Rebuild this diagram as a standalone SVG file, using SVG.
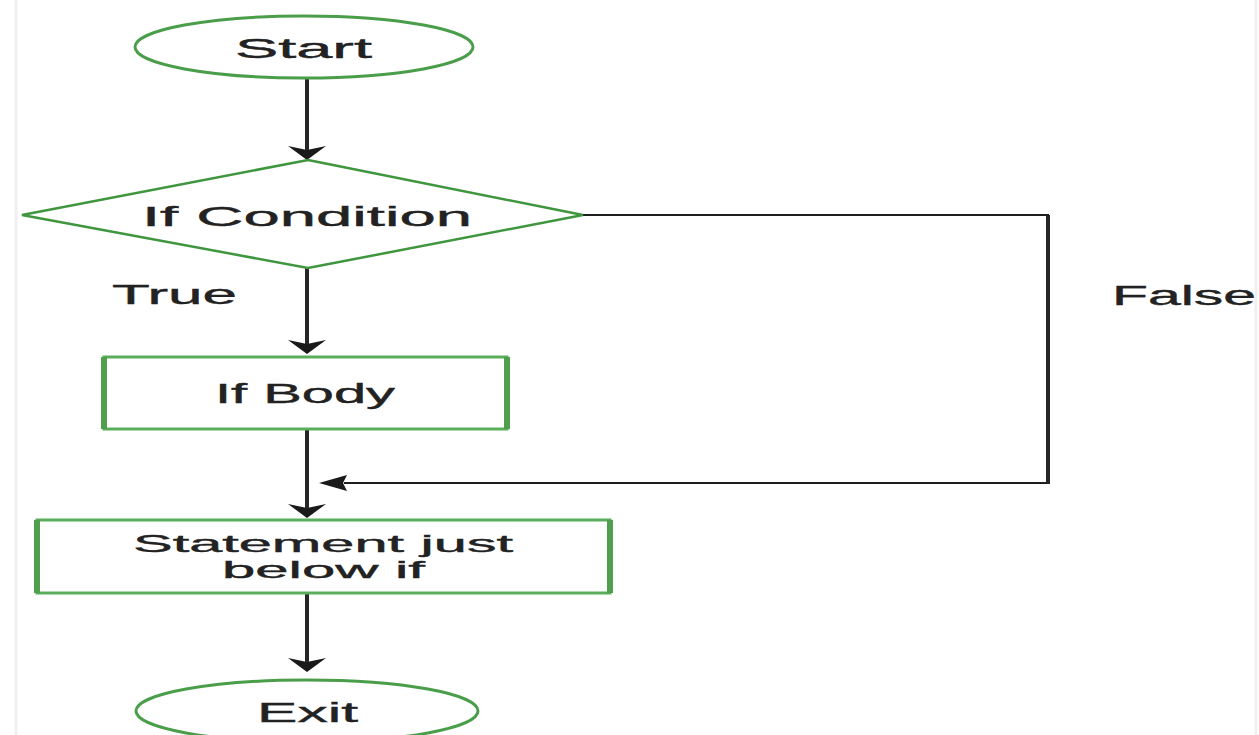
<svg xmlns="http://www.w3.org/2000/svg" width="1259" height="735" viewBox="0 0 1259 735">
  <style>
    .term { fill: #ffffff; stroke: #4a9e4a; stroke-width: 3; }
    .box { fill: #ffffff; stroke: #5aae5a; stroke-width: 3; }
    .side { stroke: #4f9f4f; stroke-width: 6; }
    .dec { fill: #ffffff; stroke: #3f963f; stroke-width: 2.5; }
    .lbl { font-family: "Liberation Sans", Arial, sans-serif; font-size: 28px; fill: #222222; stroke: #222222; stroke-width: 0.4; }
    .small { font-size: 24px; }
    .flow { stroke: #262626; stroke-width: 4; fill: none; }
    .thin { stroke: #1e1e1e; stroke-width: 2; fill: none; }
  </style>
  <defs>
    <!-- arrowhead pointing down, tip at origin -->
    <path id="headDown" d="M0,0 L-19,-14 L0,-10 L19,-14 Z" fill="#1a1a1a"/>
    <!-- arrowhead pointing left, tip at origin -->
    <path id="headLeft" d="M0,0 L28,-8 L24,0 L28,8 Z" fill="#1a1a1a"/>
  </defs>

  <rect x="0" y="0" width="1259" height="735" fill="#ffffff"/>
  <line x1="16" y1="0" x2="16" y2="735" stroke="#efefef" stroke-width="3"/>
  <line x1="1256" y1="0" x2="1256" y2="735" stroke="#efefef" stroke-width="3"/>

  <g id="connectors">
    <line class="flow" x1="307" y1="78" x2="307" y2="150"/>
    <use href="#headDown" x="307" y="160"/>
    <line class="flow" x1="307" y1="268" x2="307" y2="344"/>
    <use href="#headDown" x="307" y="354"/>
    <line class="flow" x1="307" y1="430" x2="307" y2="508"/>
    <use href="#headDown" x="307" y="518"/>
    <line class="flow" x1="307" y1="594" x2="307" y2="662"/>
    <use href="#headDown" x="307" y="672"/>
    <!-- false branch: right, down, back left to the main line -->
    <polyline class="thin" points="583,215 1048,215 1048,483 344,483"/>
    <line class="flow" x1="1048" y1="215" x2="1048" y2="484"/>
    <use href="#headLeft" x="319" y="483"/>
    <text class="lbl" x="112" y="304" textLength="125" lengthAdjust="spacingAndGlyphs">True</text>
    <text class="lbl" x="1112" y="305" textLength="144" lengthAdjust="spacingAndGlyphs">False</text>
  </g>

  <g id="start">
    <ellipse class="term" cx="304" cy="47" rx="169" ry="31"/>
    <text class="lbl" x="235" y="58" textLength="137" lengthAdjust="spacingAndGlyphs">Start</text>
  </g>

  <g id="condition">
    <polygon class="dec" points="308,160 583,215 308,268 22,215"/>
    <text class="lbl" x="142" y="226" textLength="330" lengthAdjust="spacingAndGlyphs">If Condition</text>
  </g>

  <g id="if-body">
    <rect class="box" x="104" y="357" width="403" height="72"/>
    <line class="side" x1="104" y1="357" x2="104" y2="429"/>
    <line class="side" x1="507" y1="357" x2="507" y2="429"/>
    <text class="lbl" x="215" y="403" textLength="180" lengthAdjust="spacingAndGlyphs">If Body</text>
  </g>

  <g id="statement">
    <rect class="box" x="37" y="520" width="573" height="73"/>
    <line class="side" x1="37" y1="520" x2="37" y2="593"/>
    <line class="side" x1="610" y1="520" x2="610" y2="593"/>
    <text class="lbl small" x="133" y="552" textLength="380" lengthAdjust="spacingAndGlyphs">Statement just</text>
    <text class="lbl small" x="222" y="578" textLength="203" lengthAdjust="spacingAndGlyphs">below if</text>
  </g>

  <g id="exit">
    <ellipse class="term" cx="307" cy="711" rx="171" ry="31"/>
    <text class="lbl" x="257" y="722" textLength="101" lengthAdjust="spacingAndGlyphs">Exit</text>
  </g>
</svg>
